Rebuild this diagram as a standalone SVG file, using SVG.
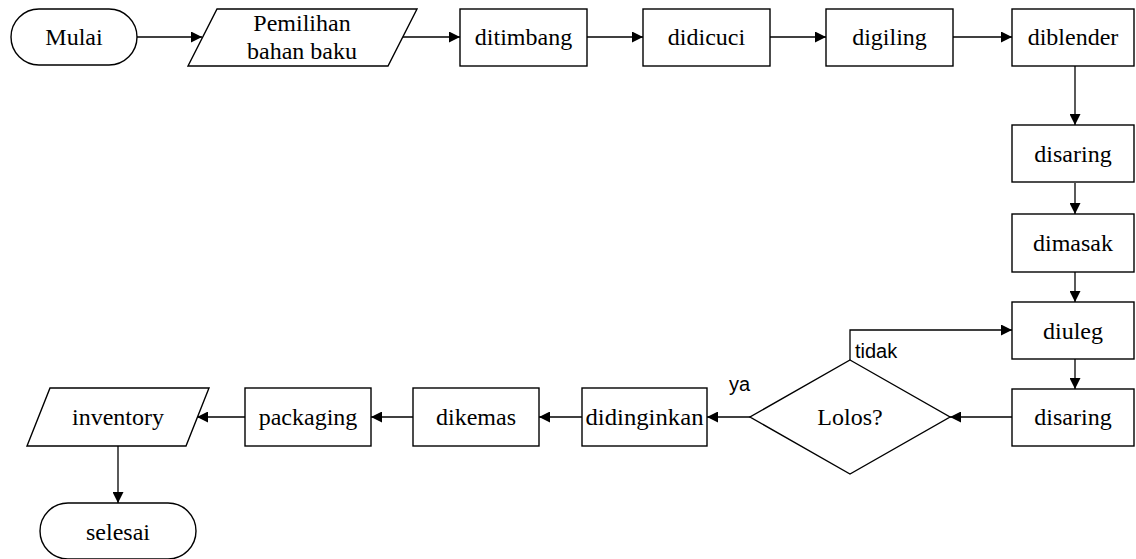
<svg xmlns="http://www.w3.org/2000/svg" width="1136" height="559" viewBox="0 0 1136 559">
<style>
.s{fill:#fff;stroke:#000;stroke-width:1.4}
.t{font-family:"Liberation Serif","Times New Roman",serif;font-size:24px;fill:#000;text-anchor:middle}
.l{font-family:"Liberation Sans",Arial,sans-serif;font-size:20px;fill:#000}
.c{fill:none;stroke:#000;stroke-width:1.3;marker-end:url(#a)}
</style>
<defs>
<marker id="a" viewBox="0 0 10 10" refX="10" refY="5" markerWidth="11" markerHeight="11" markerUnits="userSpaceOnUse" orient="auto">
<path d="M0,0 L10,5 L0,10 Z" fill="#000"/>
</marker>
</defs>
<rect width="1136" height="559" fill="#fff"/>
<g id="connectors">
<path class="c" d="M137,37 H202"/>
<path class="c" d="M402,37 H460"/>
<path class="c" d="M587,37 H643"/>
<path class="c" d="M770,37 H826"/>
<path class="c" d="M953,37 H1012"/>
<path class="c" d="M1075,66 V125"/>
<path class="c" d="M1075,183 V214"/>
<path class="c" d="M1075,272 V302"/>
<path class="c" d="M1075,359 V389"/>
<path class="c" d="M1012,417 H950"/>
<path class="c" d="M850,360 V330 H1012"/>
<path class="c" d="M750,417 H707"/>
<path class="c" d="M582,417 H539"/>
<path class="c" d="M413,417 H371"/>
<path class="c" d="M245,417 H197"/>
<path class="c" d="M118,446 V503"/>
</g>
<g id="mulai"><rect class="s" x="11" y="9" width="126" height="56" rx="28" ry="28"/><text class="t" x="74" y="45">Mulai</text></g>
<g id="pemilihan"><polygon class="s" points="217,9 417,9 388,66 188,66"/><text class="t" x="302" y="31">Pemilihan</text><text class="t" x="302" y="59">bahan baku</text></g>
<g id="ditimbang"><rect class="s" x="460" y="9" width="127" height="57"/><text class="t" x="523.5" y="45">ditimbang</text></g>
<g id="didicuci"><rect class="s" x="643" y="9" width="127" height="57"/><text class="t" x="706.5" y="45">didicuci</text></g>
<g id="digiling"><rect class="s" x="826" y="9" width="127" height="57"/><text class="t" x="889.5" y="45">digiling</text></g>
<g id="diblender"><rect class="s" x="1012" y="9" width="122" height="57"/><text class="t" x="1073" y="45">diblender</text></g>
<g id="disaring1"><rect class="s" x="1012" y="125" width="122" height="57"/><text class="t" x="1073" y="162">disaring</text></g>
<g id="dimasak"><rect class="s" x="1012" y="214" width="122" height="58"/><text class="t" x="1073" y="251">dimasak</text></g>
<g id="diuleg"><rect class="s" x="1012" y="302" width="122" height="57"/><text class="t" x="1073" y="339">diuleg</text></g>
<g id="disaring2"><rect class="s" x="1012" y="389" width="122" height="57"/><text class="t" x="1073" y="425">disaring</text></g>
<g id="lolos"><polygon class="s" points="850,360 950,417 850,474 750,417"/><text class="t" x="850" y="425">Lolos?</text></g>
<g id="didinginkan"><rect class="s" x="582" y="388" width="125" height="58"/><text class="t" x="644.5" y="425" textLength="118" lengthAdjust="spacingAndGlyphs">didinginkan</text></g>
<g id="dikemas"><rect class="s" x="413" y="388" width="126" height="58"/><text class="t" x="476" y="425">dikemas</text></g>
<g id="packaging"><rect class="s" x="245" y="388" width="126" height="58"/><text class="t" x="308" y="425">packaging</text></g>
<g id="inventory"><polygon class="s" points="50,388 209,388 186,446 27,446"/><text class="t" x="118" y="425">inventory</text></g>
<g id="selesai"><rect class="s" x="40" y="503" width="156" height="56" rx="28" ry="28"/><text class="t" x="118" y="540">selesai</text></g>
<g id="labels"><text class="l" x="855" y="358">tidak</text><text class="l" x="729" y="391">ya</text></g>
</svg>
